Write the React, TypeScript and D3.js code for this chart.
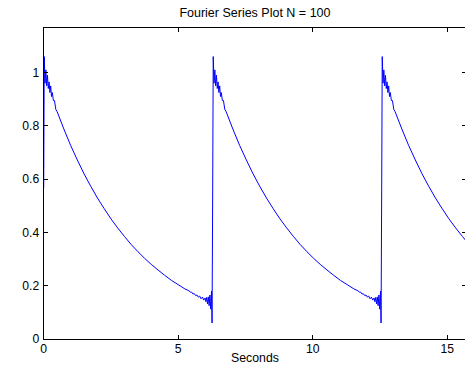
import React, { useEffect } from "react";
import * as d3 from "d3";

// One period of the plotted curve (phase in seconds, value)
const cyclePhase = [
  0, 0.02, 0.05, 0.08, 0.11, 0.14, 0.17, 0.2, 0.23, 0.26, 0.29, 0.32, 0.36, 0.4, 0.45, 0.5,
  0.75, 1.0, 1.25, 1.5, 1.75, 2.0, 2.25, 2.5, 2.75, 3.0, 3.25, 3.5, 3.75, 4.0, 4.25,
  4.5, 4.75, 5.0, 5.25, 5.4, 5.45, 5.5, 5.55, 5.6, 5.65, 5.7, 5.75, 5.8, 5.85, 5.9, 5.95,
  6.0, 6.03, 6.06, 6.09, 6.12, 6.15, 6.18, 6.21, 6.24, 6.26, 6.283,
];
const cycleValue = [
  0.567, 1.06, 0.96, 1.01, 0.95, 0.99, 0.94, 0.965, 0.925, 0.95, 0.91, 0.925, 0.895, 0.895, 0.862, 0.853,
  0.788, 0.727, 0.672, 0.62, 0.573, 0.529, 0.489, 0.451, 0.417, 0.385, 0.355, 0.328, 0.303, 0.28, 0.259,
  0.239, 0.22, 0.204, 0.188, 0.181, 0.176, 0.176, 0.169, 0.17, 0.163, 0.165, 0.157, 0.161, 0.151, 0.157, 0.146,
  0.154, 0.14, 0.156, 0.132, 0.158, 0.125, 0.165, 0.112, 0.18, 0.06, 0.567,
];
// Start time of each repeated period
const cycleStarts = [0, 6.283, 12.566];

const xTicks = [0, 5, 10, 15];
const yTicks = [0, 0.2, 0.4, 0.6, 0.8, 1];
const xMax = 15.708;
const yMax = 1.171;
const title = "Fourier Series Plot N = 100";
const xLabel = "Seconds";

const W = 465;
const H = 371;
const left = 43.7;
const right = 466.2;
const top = 27;
const bottom = 339;
const tickLen = 4.5;
const font = "'Liberation Sans', Arial, Helvetica, sans-serif";

export default function App() {
  useEffect(() => {
    document.body.style.margin = "0";
  }, []);

  const x = d3.scaleLinear().domain([0, xMax]).range([left, right]);
  const y = d3.scaleLinear().domain([0, yMax]).range([bottom, top]);

  const line = d3
    .line<[number, number]>()
    .x((d) => x(d[0]))
    .y((d) => y(d[1]))
    .curve(d3.curveLinear);

  const paths = cycleStarts.map((s) =>
    line(cyclePhase.map((p, i) => [s + p, cycleValue[i]] as [number, number]))
  );

  return (
    <svg width={W} height={H} style={{ display: "block", background: "#fff" }}>
      <defs>
        <clipPath id="plotClip">
          <rect x={left} y={top} width={right - left} height={bottom - top} />
        </clipPath>
      </defs>
      <rect x={0} y={0} width={W} height={H} fill="#fff" />
      <g clipPath="url(#plotClip)">
        {paths.map((d, i) => (
          <path key={i} d={d || ""} fill="none" stroke="#0000ff" strokeWidth={1} />
        ))}
      </g>
      {/* box */}
      <rect
        x={left}
        y={top}
        width={right - left}
        height={bottom - top}
        fill="none"
        stroke="#000"
        strokeWidth={1}
        shapeRendering="crispEdges"
      />
      {/* x ticks */}
      {xTicks.map((t) => (
        <g key={"x" + t}>
          <line x1={x(t)} x2={x(t)} y1={bottom} y2={bottom - tickLen} stroke="#000" shapeRendering="crispEdges" />
          <line x1={x(t)} x2={x(t)} y1={top} y2={top + tickLen} stroke="#000" shapeRendering="crispEdges" />
          <text
            x={x(t)}
            y={bottom + 14}
            textAnchor="middle"
            fontFamily={font}
            fontSize={12.2}
            fill="#000"
          >
            {t}
          </text>
        </g>
      ))}
      {/* y ticks */}
      {yTicks.map((t) => (
        <g key={"y" + t}>
          <line x1={left} x2={left + tickLen} y1={y(t)} y2={y(t)} stroke="#000" shapeRendering="crispEdges" />
          <line x1={right} x2={right - tickLen} y1={y(t)} y2={y(t)} stroke="#000" shapeRendering="crispEdges" />
          <text
            x={left - 4.5}
            y={y(t) + 4.3}
            textAnchor="end"
            fontFamily={font}
            fontSize={12.2}
            fill="#000"
          >
            {t}
          </text>
        </g>
      ))}
      <text
        x={(left + right) / 2}
        y={17}
        textAnchor="middle"
        fontFamily={font}
        fontSize={12.5}
        fill="#000"
      >
        {title}
      </text>
      <text
        x={(left + right) / 2}
        y={362}
        textAnchor="middle"
        fontFamily={font}
        fontSize={12.3}
        fill="#000"
      >
        {xLabel}
      </text>
    </svg>
  );
}
